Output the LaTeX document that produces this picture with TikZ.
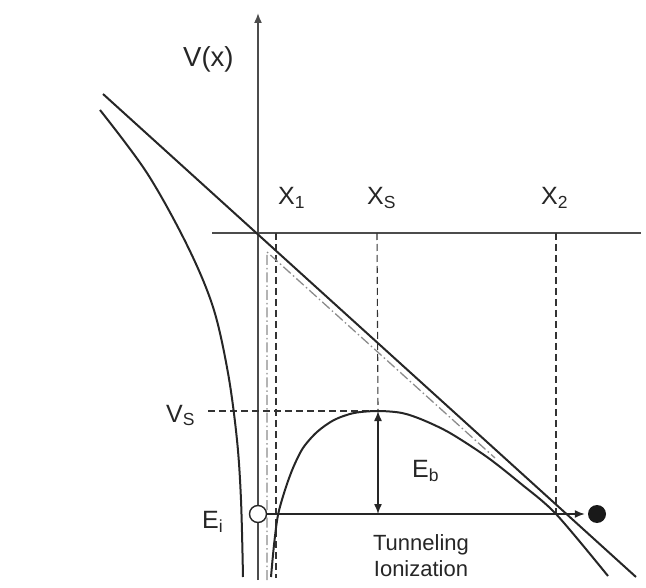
\documentclass[tikz,border=0pt]{standalone}
\usepackage{fontspec}
\setmainfont{Liberation Sans}
\usetikzlibrary{arrows.meta}
\begin{document}
\begin{tikzpicture}[x=1pt,y=-1pt,
  curve/.style={line width=2pt, draw=black!85, line join=round},
  axisline/.style={line width=1.6pt, draw=black!70},
  guide/.style={line width=1.1pt, draw=black!80, dash pattern=on 7pt off 4pt},
  approx/.style={line width=1.3pt, draw=black!45, dash pattern=on 10pt off 3pt on 1.5pt off 3pt},
  lbl/.style={inner sep=0pt, anchor=base west, font=\fontsize{25}{28}\selectfont, text=black!85},
  small/.style={inner sep=0pt, anchor=base, font=\fontsize{22}{26}\selectfont, text=black!85},
  tip/.style={-{Latex[length=10pt,width=8pt]}},
  tips/.style={{Latex[length=10pt,width=8pt]}-{Latex[length=10pt,width=8pt]}},
]
\useasboundingbox (0,0) rectangle (646,588);
% axes
\coordinate (O) at (258,233);
\coordinate (ytop) at (258,13);
\coordinate (ybot) at (258,580);
\coordinate (xl) at (212,233);
\coordinate (xr) at (641,233);
\draw[axisline, tip] (ybot) -- (ytop);
\draw[axisline] (xl) -- (xr);
% guide lines
\coordinate (x1top) at (276,233);
\coordinate (x1bot) at (276,578);
\coordinate (xstop) at (377,233);
\coordinate (peak) at (378,411);
\coordinate (x2top) at (556,233);
\coordinate (x2bot) at (556,514);
\coordinate (vsl) at (208,411);
\draw[guide] (x1top) -- (x1bot);
\draw[guide] (xstop) -- (peak);
\draw[guide] (x2top) -- (x2bot);
\draw[guide] (vsl) -- (peak);
% approximate (gray) barrier
\coordinate (ga) at (267,580);
\coordinate (gb) at (267,252);
\coordinate (gc) at (495,458);
\draw[approx] (ga) -- (gb) -- (gc);
% field line
\coordinate (Fa) at (103,94);
\coordinate (Fb) at (636,577);
\draw[curve] (Fa) -- (Fb);
% Coulomb + field potential
\draw[curve] plot[smooth, tension=0.55] coordinates {(100,110) (147,173) (187,245) (213,307) (228,373) (237,440) (241,500) (243,577)};
\draw[curve] plot[smooth, tension=0.5] coordinates {(271,577) (274,545) (278,515) (285,490) (293,468) (303,448) (317,432) (334,420) (354,413) (378,411) (402,413) (423,420) (450,433) (487,457) (520,483) (556,514) (608,576)};
% Eb arrow
\coordinate (ebot) at (378,514);
\draw[line width=1.4pt, draw=black!85, tips] (peak) -- (ebot);
% electron states
\node[circle, draw=black!85, fill=white, minimum size=17pt, inner sep=0pt, line width=1.4pt] (ei) at (258,514) {};
\node[circle, fill=black!90, minimum size=18pt, inner sep=0pt] (ion) at (597,514) {};
\draw[line width=1.5pt, draw=black!85, tip, shorten >=3pt] (ei.east) -- (ion.west);
% labels
\node[lbl, font=\fontsize{27.5}{30}\selectfont] (lV) at (183,67) {V(x)};
\node[lbl] (lX1) at (278,205) {X\textsubscript{1}};
\node[lbl] (lXs) at (367,205) {X\textsubscript{S}};
\node[lbl] (lX2) at (541,205) {X\textsubscript{2}};
\node[lbl] (lVs) at (166,422) {V\textsubscript{S}};
\node[lbl] (lEi) at (202,528) {E\textsubscript{i}};
\node[lbl] (lEb) at (412,477) {E\textsubscript{b}};
\node[small] (lT) at (421,550) {Tunneling};
\node[small] (lI) at (421,576) {Ionization};
\end{tikzpicture}
\end{document}
